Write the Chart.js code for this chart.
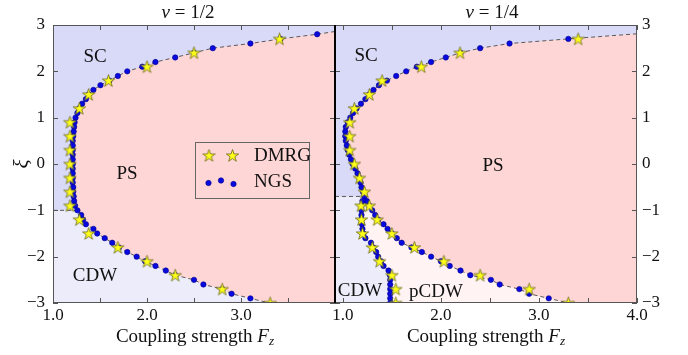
<!DOCTYPE html>
<html lang="en">
<head>
<meta charset="UTF-8">
<title>Phase diagram nu = 1/2 and nu = 1/4</title>
<script src="https://cdn.jsdelivr.net/npm/chart.js"></script>
<style>
  body { margin: 0; background: #fff; }
  #wrap { position: relative; width: 688px; height: 355px; font-family: 'Liberation Serif', serif; color: #111; }
  canvas { position: absolute; top: 0; }
  .lbl { position: absolute; transform: translate(-50%, -50%); white-space: nowrap; line-height: 1; font-size: 19px; }
  .lbl sub { font-size: 70%; vertical-align: -0.3em; line-height: 0; }
</style>
</head>
<body>
<div id="wrap">
  <canvas id="leftChart" width="340" height="355" style="left:0"></canvas>
  <canvas id="rightChart" width="368" height="355" style="left:320px"></canvas>

  <div class="lbl" style="left:188px; top:11px"><i>ν</i> = 1/2</div>
  <div class="lbl" style="left:492px; top:11px"><i>ν</i> = 1/4</div>
  <div class="lbl" style="left:195px; top:335px">Coupling strength <i>F</i><sub><i>z</i></sub></div>
  <div class="lbl" style="left:486px; top:335px">Coupling strength <i>F</i><sub><i>z</i></sub></div>

  <div class="lbl" style="left:95px; top:55px">SC</div>
  <div class="lbl" style="left:127px; top:172px">PS</div>
  <div class="lbl" style="left:95px; top:274px">CDW</div>
  <div class="lbl" style="left:366px; top:54px">SC</div>
  <div class="lbl" style="left:493px; top:164px">PS</div>
  <div class="lbl" style="left:360px; top:289px">CDW</div>
  <div class="lbl" style="left:436px; top:290px">pCDW</div>
</div>

<script>
// ---- axes ----
const xTickVals = [1.0, 1.5, 2.0, 2.5, 3.0, 3.5, 4.0];
const xTickLabelsL = ['1.0', '', '2.0', '', '3.0', '', ''];
const xTickLabelsR = ['1.0', '', '2.0', '', '3.0', '', '4.0'];
const yTickVals = [-3, -2, -1, 0, 1, 2, 3];
const yTickLabels = ['\u22123', '\u22122', '\u22121', '0', '1', '2', '3'];
const xRangeL = [1.0, 4.0];
const xRangeR = [0.92, 4.0];
const yRange = [-3, 3];

// ---- nu = 1/2 ----
const ngsXiL = [2.8, 2.7, 2.6, 2.5, 2.4, 2.3, 2.2, 2.1, 2.0, 1.9, 1.8, 1.7, 1.6, 1.5, 1.4, 1.3, 1.2, 1.1, 1.0,
  0.9, 0.8, 0.7, 0.6, 0.5, 0.4, 0.3, 0.2, 0.1, 0.0, -0.1, -0.2, -0.3, -0.4, -0.5, -0.6, -0.7, -0.8, -0.9,
  -1.0, -1.1, -1.2, -1.3, -1.4, -1.5, -1.6, -1.7, -1.8, -1.9, -2.0, -2.1, -2.2, -2.3, -2.4, -2.5, -2.6, -2.7, -2.8, -2.9];
const ngsFL = [3.81, 3.42, 3.10, 2.70, 2.50, 2.30, 2.09, 1.95, 1.79, 1.69, 1.60, 1.505, 1.43, 1.38, 1.35, 1.31, 1.28, 1.26, 1.24,
  1.23, 1.225, 1.22, 1.215, 1.21, 1.21, 1.21, 1.21, 1.21, 1.21, 1.21, 1.21, 1.21, 1.21, 1.215, 1.215, 1.22, 1.225, 1.235,
  1.26, 1.30, 1.32, 1.35, 1.43, 1.47, 1.55, 1.63, 1.70, 1.79, 1.89, 1.98, 2.09, 2.20, 2.30, 2.50, 2.60, 2.80, 2.90, 3.10];
const dmrgXiL = [2.7, 2.4, 2.1, 1.8, 1.5, 1.2, 0.9, 0.6, 0.3, 0.0, -0.3, -0.6, -0.9, -1.2, -1.5, -1.8, -2.1, -2.4, -2.7, -3.0];
const dmrgFL = [3.41, 2.50, 2.00, 1.59, 1.38, 1.28, 1.18, 1.18, 1.18, 1.18, 1.18, 1.18, 1.18, 1.28, 1.38, 1.69, 2.00, 2.30, 2.80, 3.31];
const edgeTopL = [4.0, 2.86];     // where the boundary leaves the frame (F, xi)
const edgeBottomL = [3.3, -3.0];
const sepXiL = -1.0;              // SC / CDW separation

// ---- nu = 1/4 ----
const ngsXiR = [2.7, 2.6, 2.5, 2.4, 2.3, 2.2, 2.1, 2.0, 1.9, 1.8, 1.7, 1.6, 1.5, 1.4, 1.3, 1.2, 1.1, 1.0,
  0.9, 0.8, 0.7, 0.6, 0.5, 0.4, 0.3, 0.2, 0.1, 0.0, -0.1, -0.2, -0.3, -0.4, -0.5, -0.6, -0.7, -0.8, -0.9,
  -1.0, -1.1, -1.2, -1.3, -1.4, -1.5, -1.6, -1.7, -1.8, -1.9, -2.0, -2.1, -2.2, -2.3, -2.4, -2.5, -2.6, -2.7, -2.8, -2.9];
const ngsFR = [3.30, 2.70, 2.40, 2.20, 2.05, 1.90, 1.755, 1.646, 1.544, 1.45, 1.368, 1.313, 1.27, 1.23, 1.185, 1.14, 1.104, 1.076,
  1.05, 1.03, 1.025, 1.025, 1.03, 1.04, 1.05, 1.065, 1.083, 1.10, 1.127, 1.15, 1.17, 1.18, 1.19, 1.205, 1.22, 1.245, 1.27,
  1.30, 1.33, 1.36, 1.415, 1.456, 1.50, 1.55, 1.60, 1.70, 1.806, 1.90, 2.00, 2.09, 2.20, 2.30, 2.51, 2.60, 2.80, 2.90, 3.10];
const ngsXiR2 = [-0.8, -0.9, -1.0, -1.1, -1.2, -1.3, -1.4, -1.5, -1.6, -1.7, -1.8, -1.9, -2.0, -2.1, -2.2, -2.3, -2.4, -2.5,
  -2.6, -2.7, -2.8, -2.9, -3.0];
const ngsFR2 = [1.20, 1.19, 1.19, 1.19, 1.19, 1.195, 1.20, 1.21, 1.23, 1.287, 1.31, 1.34, 1.36, 1.39, 1.415, 1.466, 1.48, 1.483,
  1.483, 1.483, 1.483, 1.483, 1.483];
const dmrgXiR = [2.7, 2.4, 2.1, 1.8, 1.5, 1.2, 0.9, 0.6, 0.3, 0.0, -0.3, -0.6, -0.9, -1.2, -1.5, -1.8, -2.1, -2.4, -2.7, -3.0];
const dmrgFR = [3.40, 2.195, 1.80, 1.40, 1.27, 1.117, 1.07, 1.07, 1.07, 1.117, 1.17, 1.22, 1.27, 1.35, 1.50, 1.73, 2.03, 2.40, 2.90, 3.30];
const dmrgXiR2 = [-0.9, -1.2, -1.5, -1.8, -2.1, -2.4, -2.7, -3.0];
const dmrgFR2 = [1.185, 1.19, 1.20, 1.30, 1.375, 1.50, 1.54, 1.54];
const edgeTopR = [4.0, 2.81];
const edgeBottomR = [3.3, -3.0];
const sepXiR = -0.7;              // SC / CDW separation, also where the pCDW wedge opens

// ---- colours ----
const colPS = '#ffd6d6';
const colSC = '#d9d9f8';
const colCDW = '#ececfb';
const colPCDW = '#fff3f3';
const serif = "'Liberation Serif', serif";

// a filled 5-point star, used as point style
const starImg = (() => {
  const c = document.createElement('canvas');
  c.width = 15; c.height = 15;
  const g = c.getContext('2d');
  g.beginPath();
  for (let k = 0; k < 10; k++) {
    const r = k % 2 ? 2.5 : 6.5;
    const a = -Math.PI / 2 + k * Math.PI / 5;
    const px = 7.5 + r * Math.cos(a), py = 8.0 + r * Math.sin(a);
    k ? g.lineTo(px, py) : g.moveTo(px, py);
  }
  g.closePath();
  g.fillStyle = '#ffff1a';
  g.fill();
  g.lineWidth = 0.8;
  g.strokeStyle = '#6a6a1a';
  g.stroke();
  return c;
})();

const pts = (xi, f) => xi.map((v, i) => ({x: f[i], y: v}));
const P = (arr) => ({x: arr[0], y: arr[1]});

function region(data, color) {
  return {data, showLine: true, fill: 'shape', backgroundColor: color, borderColor: 'transparent',
          borderWidth: 0, pointRadius: 0, order: 10};
}
function dashed(data) {
  return {data, showLine: true, fill: false, borderColor: '#5a5a5a', borderWidth: 1, borderDash: [4, 3],
          pointRadius: 0, order: 5};
}
function ngs(data) {
  return {label: 'NGS', data, showLine: false, pointStyle: 'circle', pointRadius: 2.7,
          backgroundColor: '#0808e0', borderColor: '#00008a', borderWidth: 0.6, order: 2};
}
function dmrg(data) {
  return {label: 'DMRG', data, showLine: false, pointStyle: starImg, pointRadius: 6, order: 1};
}

// inward tick marks + frame
const framePlugin = {
  id: 'frame',
  beforeDatasetsDraw(chart) {
    const {ctx, chartArea: a} = chart;
    ctx.save();
    ctx.fillStyle = colPS;
    ctx.fillRect(a.left, a.top, a.width, a.height);
    ctx.restore();
  },
  afterDatasetsDraw(chart, args, opts) {
    const {ctx, chartArea: a, scales: {x, y}} = chart;
    ctx.save();
    ctx.strokeStyle = '#555';
    ctx.lineWidth = 1;
    ctx.beginPath();
    x.ticks.forEach(t => {
      const px = Math.round(x.getPixelForValue(t.value)) + 0.5;
      ctx.moveTo(px, a.bottom); ctx.lineTo(px, a.bottom - 5);
      ctx.moveTo(px, a.top); ctx.lineTo(px, a.top + 5);
    });
    y.ticks.forEach(t => {
      const py = Math.round(y.getPixelForValue(t.value)) + 0.5;
      ctx.moveTo(a.left, py); ctx.lineTo(a.left + 5, py);
      ctx.moveTo(a.right, py); ctx.lineTo(a.right - 5, py);
    });
    ctx.stroke();
    ctx.strokeRect(a.left + 0.5, a.top + 0.5, a.width - 1, a.height - 1);
    if (opts.blackLeft) {
      ctx.strokeStyle = '#000';
      ctx.lineWidth = 2;
      ctx.beginPath();
      ctx.moveTo(a.left, a.top); ctx.lineTo(a.left, a.bottom);
      ctx.stroke();
    }
    ctx.restore();
  }
};

// matplotlib-like legend with several markers per entry
const legendPlugin = {
  id: 'legendBox',
  afterDatasetsDraw(chart) {
    const ctx = chart.ctx;
    ctx.save();
    ctx.fillStyle = colPS;
    ctx.fillRect(195.5, 142.5, 114, 56);
    ctx.strokeStyle = '#666';
    ctx.lineWidth = 1;
    ctx.strokeRect(195.5, 142.5, 114, 56);
    [209, 232.5].forEach(sx => ctx.drawImage(starImg, sx - 7.5, 155.5 - 7.5));
    [[208.5, 183], [221, 180.5], [233.5, 184]].forEach(([dx, dy]) => {
      ctx.beginPath();
      ctx.arc(dx, dy, 2.7, 0, Math.PI * 2);
      ctx.fillStyle = '#0808e0';
      ctx.fill();
      ctx.strokeStyle = '#00008a';
      ctx.lineWidth = 0.6;
      ctx.stroke();
    });
    ctx.fillStyle = '#111';
    ctx.font = '19px ' + serif;
    ctx.textBaseline = 'middle';
    ctx.fillText('DMRG', 254, 156);
    ctx.fillText('NGS', 254, 182);
    ctx.restore();
  }
};

function makeChart(canvasId, datasets, xRange, xLabels, side, plugins, padding) {
  return new Chart(document.getElementById(canvasId), {
    type: 'scatter',
    data: {datasets},
    plugins,
    options: {
      responsive: false,
      animation: false,
      events: [],
      devicePixelRatio: 1,
      layout: {padding, autoPadding: false},
      plugins: {
        legend: {display: false},
        tooltip: {enabled: false},
        frame: {blackLeft: side === 'right'}
      },
      scales: {
        x: {
          type: 'linear', min: xRange[0], max: xRange[1],
          grid: {display: false, drawTicks: false}, border: {display: false},
          afterBuildTicks: s => { s.ticks = xTickVals.map(v => ({value: v})); },
          afterFit: s => { s.height = 52; },
          ticks: {autoSkip: false, maxRotation: 0, padding: 2, color: '#111',
                  font: {family: serif, size: 17}, callback: (v, i) => xLabels[i]}
        },
        y: {
          type: 'linear', position: side, min: yRange[0], max: yRange[1],
          grid: {display: false, drawTicks: false}, border: {display: false},
          afterBuildTicks: s => { s.ticks = yTickVals.map(v => ({value: v})); },
          afterFit: s => { s.width = side === 'left' ? 53 : 51; },
          ticks: {padding: side === 'left' ? 8 : 5, color: '#111',
                  font: {family: serif, size: 17}, callback: (v, i) => yTickLabels[i]},
          title: {display: side === 'left', text: '\u03be', color: '#111',
                  font: {family: serif, size: 21, style: 'italic'}, padding: {top: 10, bottom: 0}}
        }
      }
    }
  });
}

// ---- left panel ----
const curveL = pts(ngsXiL, ngsFL);
const upperL = curveL.filter(p => p.y >= sepXiL);
const lowerL = curveL.filter(p => p.y <= sepXiL);
const scL = [{x: xRangeL[0], y: yRange[1]}, {x: xRangeL[1], y: yRange[1]}, P(edgeTopL), ...upperL, {x: xRangeL[0], y: sepXiL}];
const cdwL = [{x: xRangeL[0], y: sepXiL}, ...lowerL, P(edgeBottomL), {x: xRangeL[0], y: yRange[0]}];
makeChart('leftChart', [
  dmrg(pts(dmrgXiL, dmrgFL)),
  ngs(curveL),
  dashed([P(edgeTopL), ...curveL, P(edgeBottomL)]),
  dashed([{x: xRangeL[0], y: sepXiL}, lowerL[0]]),
  region(scL, colSC),
  region(cdwL, colCDW)
], xRangeL, xTickLabelsL, 'left', [framePlugin, legendPlugin], {top: 25, right: 5, left: 0, bottom: 0});

// ---- right panel ----
const curveR = pts(ngsXiR, ngsFR);
const branchR = pts(ngsXiR2, ngsFR2);
const upperR = curveR.filter(p => p.y >= sepXiR);
const lowerR = curveR.filter(p => p.y < sepXiR);
const joint = upperR[upperR.length - 1];
const scR = [{x: xRangeR[0], y: yRange[1]}, {x: xRangeR[1], y: yRange[1]}, P(edgeTopR), ...upperR, {x: xRangeR[0], y: sepXiR}];
const cdwR = [{x: xRangeR[0], y: sepXiR}, joint, ...branchR, {x: xRangeR[0], y: yRange[0]}];
const pcdwR = [joint, ...branchR, P(edgeBottomR), ...lowerR.slice().reverse()];
makeChart('rightChart', [
  dmrg([...pts(dmrgXiR, dmrgFR), ...pts(dmrgXiR2, dmrgFR2)]),
  ngs([...curveR, ...branchR]),
  dashed([P(edgeTopR), ...curveR, P(edgeBottomR)]),
  dashed([joint, ...branchR]),
  dashed([{x: xRangeR[0], y: sepXiR}, joint]),
  region(scR, colSC),
  region(cdwR, colCDW),
  region(pcdwR, colPCDW)
], xRangeR, xTickLabelsR, 'right', [framePlugin], {top: 25, right: 0, left: 15, bottom: 0});
</script>
</body>
</html>
